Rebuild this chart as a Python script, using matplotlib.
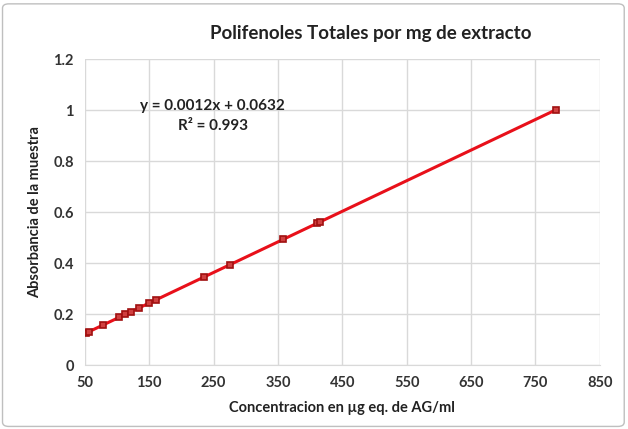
import matplotlib
matplotlib.use("Agg")
import matplotlib.pyplot as plt
import numpy as np

plt.rcParams['font.family'] = ['Lato', 'DejaVu Sans']

conc = [52, 56, 78, 103, 112, 122, 135, 150, 160, 235, 275, 358, 411, 416, 782]
absb = [0.125, 0.13, 0.157, 0.19, 0.2, 0.21, 0.225, 0.245, 0.255, 0.345, 0.393, 0.493, 0.557, 0.562, 1.0]
slope = 0.0012
intercept = 0.0632
r2 = 0.993
xticks = [50, 150, 250, 350, 450, 550, 650, 750, 850]
yticks = [0, 0.2, 0.4, 0.6, 0.8, 1, 1.2]
ylabels = ['0', '0.2', '0.4', '0.6', '0.8', '1', '1.2']

fig = plt.figure(figsize=(6.28, 4.29), dpi=100)
ax = fig.add_axes([0.135, 0.149, 0.82, 0.713])

xs = np.array([min(conc), max(conc)])
ax.plot(xs, slope * xs + intercept, color='#e8101a', lw=2.2, zorder=3)
ax.plot(conc, absb, 's', ms=5, mfc='#d04040', mec='#a01010', mew=1.2, zorder=4)

ax.set_xlim(50, 850)
ax.set_ylim(0, 1.2)
ax.set_xticks(xticks)
ax.set_yticks(yticks)
ax.set_yticklabels(ylabels)
ax.grid(color='#d9d9d9', lw=1)
ax.set_axisbelow(True)
for s in ['top', 'right', 'left']:
    ax.spines[s].set_visible(False)
ax.spines['bottom'].set_color('#d9d9d9')
ax.tick_params(length=0, labelsize=10.5, pad=8)
for lab in ax.get_xticklabels() + ax.get_yticklabels():
    lab.set_fontweight('bold')
    lab.set_color('#333333')

fig.text(0.59, 0.923, 'Polifenoles Totales por mg de extracto', ha='center', va='center',
         fontsize=13.5, fontweight='bold', color='#222222')
ax.set_xlabel('Concentracion en µg eq. de AG/ml', fontsize=10.5, fontweight='bold', color='#222222', labelpad=8)
ax.set_ylabel('Absorbancia de la muestra', fontsize=10.5, fontweight='bold', color='#222222', labelpad=8)

ax.text(249, 0.978, 'y = %.4fx + %.4f\nR² = %.3f' % (slope, intercept, r2), ha='center', va='center',
        fontsize=11, fontweight='bold', color='#222222', linespacing=1.5)

fig.patches.append(matplotlib.patches.FancyBboxPatch((0.004, 0.006), 0.99, 0.985, boxstyle='round,pad=0,rounding_size=0.01',
                                                     transform=fig.transFigure, fill=False, ec='#bfbfbf', lw=1))
fig.savefig('out.png', dpi=100)
